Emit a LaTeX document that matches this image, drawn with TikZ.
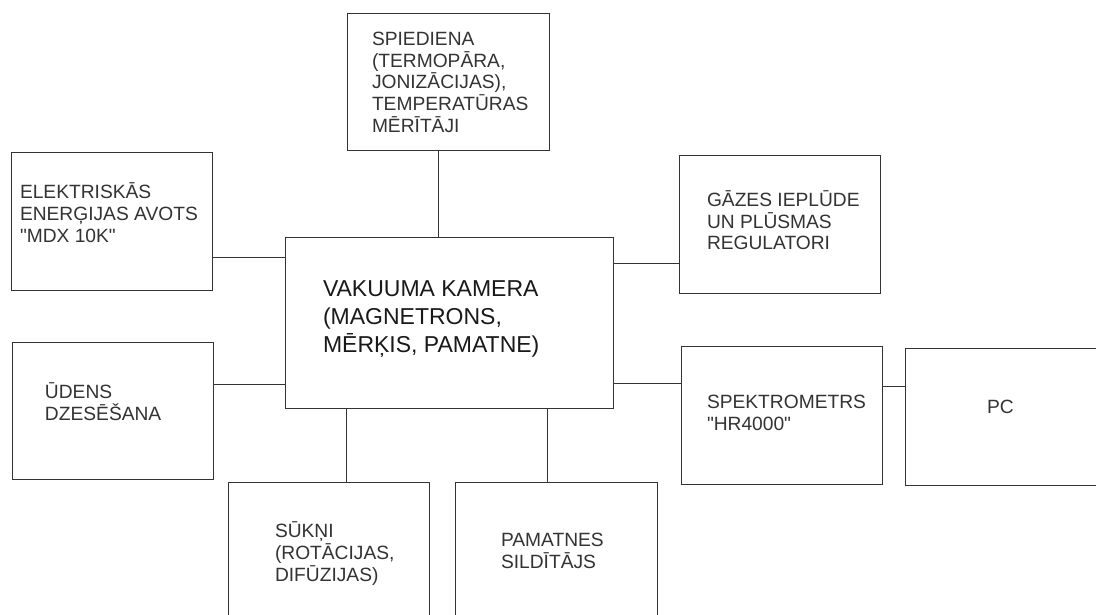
\documentclass[tikz,border=0pt]{standalone}
\usepackage{fontspec}
\setmainfont{Liberation Sans}
\begin{document}
\begin{tikzpicture}[x=1pt,y=-1pt,
  box/.style={draw=black!80, line width=1pt, rectangle, anchor=north west, inner sep=0pt, outer sep=0pt},
  conn/.style={draw=black!80, line width=1pt},
  lbl/.style={anchor=north west, inner sep=0pt, outer sep=0pt, align=left, text=black!80,
    font=\fontsize{19.2}{21.7}\selectfont},
  biglbl/.style={anchor=north west, inner sep=0pt, outer sep=0pt, align=left, text=black!90,
    font=\fontsize{23}{28}\selectfont}]
\useasboundingbox (0,0) rectangle (1096,615);
\clip (0,0) rectangle (1096,615);
\fill[white] (0,0) rectangle (1096,615);
% boxes
\node[box, minimum width=202pt, minimum height=137pt] (spied) at (347,14) {};
\node[box, minimum width=201pt, minimum height=137pt] (elek) at (11,153) {};
\node[box, minimum width=328pt, minimum height=171pt] (center) at (285,237) {};
\node[box, minimum width=201pt, minimum height=137pt] (gaz) at (679,156) {};
\node[box, minimum width=201pt, minimum height=137pt] (udens) at (12,342) {};
\node[box, minimum width=201pt, minimum height=138pt] (spek) at (681,346) {};
\node[box, minimum width=205pt, minimum height=137pt] (pc) at (905,348) {};
\node[box, minimum width=201pt, minimum height=150pt] (sukni) at (228,482) {};
\node[box, minimum width=202pt, minimum height=150pt] (pamat) at (455,482) {};
% texts
\node[lbl] (tspied) at (372,27.6) {\rule{0pt}{18pt}SPIEDIENA\\(TERMOPĀRA,\\JONIZĀCIJAS),\\TEMPERATŪRAS\\MĒRĪTĀJI};
\node[lbl] (telek) at (20,180.6) {\rule{0pt}{18pt}ELEKTRISKĀS\\ENERĢIJAS AVOTS\\\textquotedbl MDX 10K\textquotedbl};
\node[biglbl] (tcenter) at (323,274.5) {\rule{0pt}{22pt}VAKUUMA KAMERA\\(MAGNETRONS,\\MĒRĶIS, PAMATNE)};
\node[lbl] (tgaz) at (707,188.6) {\rule{0pt}{18pt}GĀZES IEPLŪDE\\UN PLŪSMAS\\REGULATORI};
\node[lbl] (tudens) at (45,380.6) {\rule{0pt}{18pt}ŪDENS\\DZESĒŠANA};
\node[lbl] (tspek) at (707,390.6) {\rule{0pt}{18pt}SPEKTROMETRS\\\textquotedbl HR4000\textquotedbl};
\node[lbl] (tpc) at (987,395.6) {\rule{0pt}{18pt}PC};
\node[lbl] (tsukni) at (275,519.6) {\rule{0pt}{18pt}SŪKŅI\\(ROTĀCIJAS,\\DIFŪZIJAS)};
\node[lbl] (tpamat) at (501,528.6) {\rule{0pt}{18pt}PAMATNES\\SILDĪTĀJS};
% connectors
\draw[conn] (438,0 |- spied.south) -- (438,0 |- center.north);
\draw[conn] (elek.east |- 0,257) -- (center.west |- 0,257);
\draw[conn] (gaz.west |- 0,263) -- (center.east |- 0,263);
\draw[conn] (udens.east |- 0,384) -- (center.west |- 0,384);
\draw[conn] (spek.west |- 0,383) -- (center.east |- 0,383);
\draw[conn] (spek.east |- 0,386) -- (pc.west |- 0,386);
\draw[conn] (346,0 |- center.south) -- (346,0 |- sukni.north);
\draw[conn] (547,0 |- center.south) -- (547,0 |- pamat.north);
\end{tikzpicture}
\end{document}
